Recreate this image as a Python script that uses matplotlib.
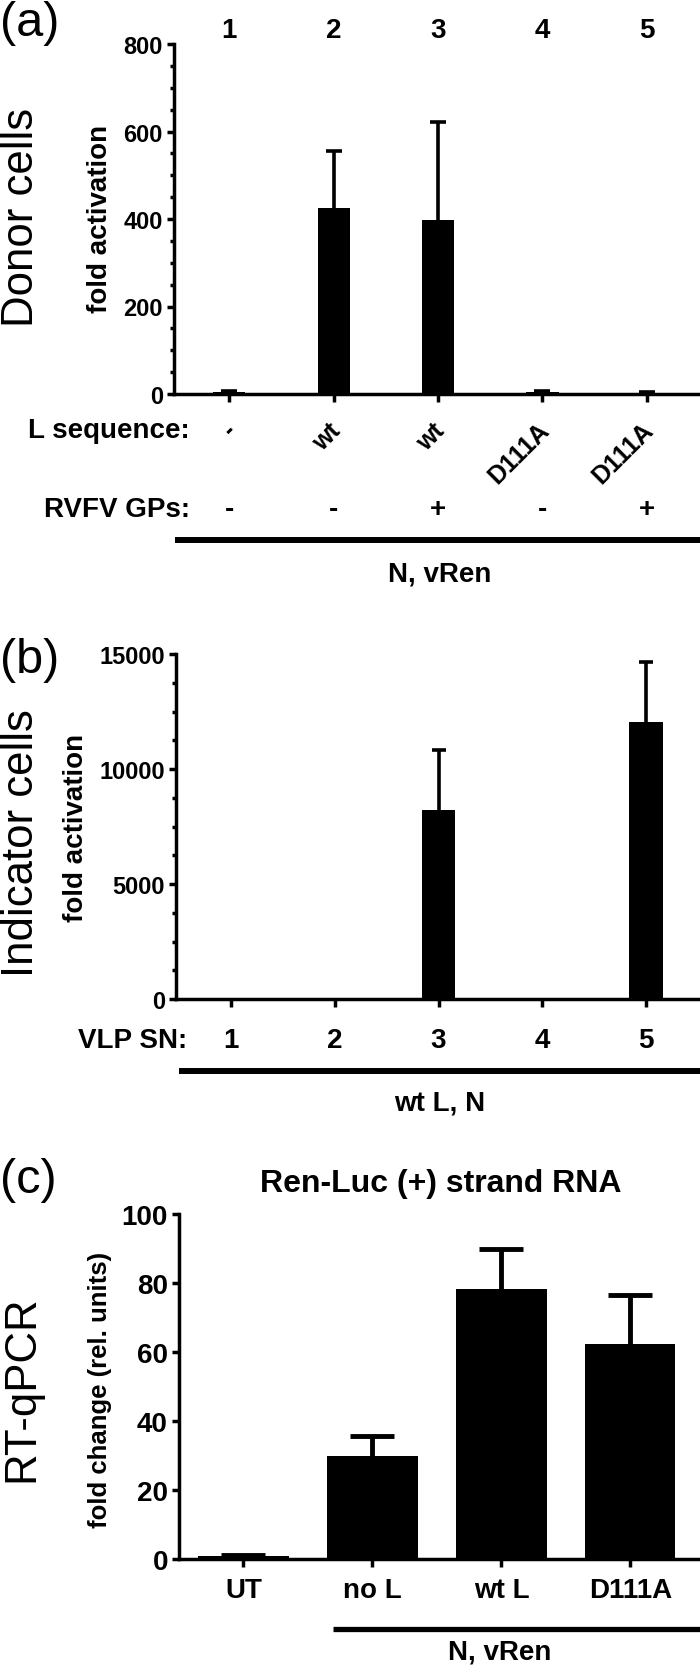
import numpy as np
import matplotlib
matplotlib.use('Agg')
import matplotlib.pyplot as plt
from matplotlib import transforms
from matplotlib.lines import Line2D
from matplotlib.ticker import MultipleLocator

# panel (a): donor cells
a_groups = [1, 2, 3, 4, 5]
a_fold = [4, 425, 398, 4, 3]
a_err = [2, 130, 223, 2, 2]
a_lseq = ['-', 'wt', 'wt', 'D111A', 'D111A']
a_gps = ['-', '-', '+', '-', '+']

# panel (b): indicator cells
b_vlp = ['1', '2', '3', '4', '5']
b_fold = [5, 5, 8220, 5, 12050]
b_err = [0, 0, 2610, 0, 2600]

# panel (c): RT-qPCR
c_cats = ['UT', 'no L', 'wt L', 'D111A']
c_fold = [1.0, 29.9, 78.3, 62.3]
c_err = [0.2, 5.7, 11.6, 14.2]

W, H = 700, 1681
plt.rcParams['font.family'] = ['Liberation Sans', 'DejaVu Sans']

fig = plt.figure(figsize=(W / 100, H / 100), dpi=100)


def fx(x):
    return x / W


def fy(y):
    return 1 - y / H


def ftext(x, y, s, **kw):
    fig.text(fx(x), fy(y), s, **kw)


def hline(x0, x1, y, lw=4.3):
    fig.add_artist(Line2D([fx(x0), fx(x1)], [fy(y), fy(y)], color='black',
                          lw=lw, solid_capstyle='butt',
                          transform=fig.transFigure))


def make_axes(left, top, bottom):
    ax = fig.add_axes([fx(left), fy(bottom), 1 - fx(left), (bottom - top) / H])
    for s in ['top', 'right']:
        ax.spines[s].set_visible(False)
    for s in ['left', 'bottom']:
        ax.spines[s].set_linewidth(2.5)
    ax.tick_params(axis='y', which='major', length=5, width=2.5, pad=3)
    ax.tick_params(axis='y', which='minor', length=3, width=2.5)
    ax.tick_params(axis='x', which='major', length=6, width=2.5)
    ax.set_facecolor('none')
    return ax


def up_errors(ax, x, y, err, lw, cap):
    # one-sided (upward) error bars, drawn only where there is an error
    x, y, err = np.asarray(x), np.asarray(y), np.asarray(err)
    keep = err > 0
    _, caps, _ = ax.errorbar(x[keep], y[keep], yerr=[np.zeros(keep.sum()), err[keep]],
                             fmt='none', ecolor='black', elinewidth=lw,
                             capsize=cap, capthick=lw, zorder=3)
    caps[0].set_visible(False)


def bold_ticks(ax, size):
    for lab in ax.get_yticklabels():
        lab.set_fontweight('bold')
        lab.set_fontsize(size)


# ---------------- (a) ----------------
ax1 = make_axes(174, 45, 395)
ax1.bar(a_groups, a_fold, width=0.31, color='black', zorder=2)
up_errors(ax1, a_groups, a_fold, a_err, 2.6, 6)
ax1.set_xlim(0.47, 5.51)
ax1.set_ylim(0, 800)
ax1.set_xticks(a_groups)
ax1.set_xticklabels([])
ax1.set_yticks(np.arange(0, 801, 200))
ax1.yaxis.set_minor_locator(MultipleLocator(50))
bold_ticks(ax1, 17)

tr1 = transforms.blended_transform_factory(ax1.transData, fig.transFigure)
for g in a_groups:
    ax1.text(g, fy(38), str(g), transform=tr1, ha='center', va='baseline',
             fontsize=20, fontweight='bold')
off = 8 / (W - 174) * (5.51 - 0.47)
for g, s in zip(a_groups, a_lseq):
    ax1.text(g + off, fy(432), s, transform=tr1, ha='right', va='baseline',
             rotation=45, rotation_mode='anchor', fontsize=18, fontweight='bold')
for g, s in zip(a_groups, a_gps):
    ax1.text(g, fy(517), s, transform=tr1, ha='center', va='baseline',
             fontsize=20, fontweight='bold')
ftext(190, 438, 'L sequence:', ha='right', va='baseline', fontsize=20,
      fontweight='bold')
ftext(190, 517, 'RVFV GPs:', ha='right', va='baseline', fontsize=20,
      fontweight='bold')
hline(175, 700, 541)
ftext(440, 582, 'N, vRen', ha='center', va='baseline', fontsize=20,
      fontweight='bold')
ftext(0, 36, '(a)', ha='left', va='baseline', fontsize=35)
ftext(33, 217, 'Donor cells', rotation=90, rotation_mode='anchor',
      ha='center', va='baseline', fontsize=31.5)
ftext(107, 219, 'fold activation', rotation=90, rotation_mode='anchor',
      ha='center', va='baseline', fontsize=20, fontweight='bold')

# ---------------- (b) ----------------
ax2 = make_axes(176, 655, 1000)
xb = np.arange(1, 6)
ax2.bar(xb, b_fold, width=0.32, color='black', zorder=2)
up_errors(ax2, xb, b_fold, b_err, 2.6, 5)
ax2.set_xlim(0.47, 5.52)
ax2.set_ylim(0, 15000)
ax2.set_xticks(xb)
ax2.set_xticklabels([])
ax2.set_yticks(np.arange(0, 15001, 5000))
ax2.yaxis.set_minor_locator(MultipleLocator(1250))
bold_ticks(ax2, 17)

tr2 = transforms.blended_transform_factory(ax2.transData, fig.transFigure)
for x, s in zip(xb, b_vlp):
    ax2.text(x, fy(1048), s, transform=tr2, ha='center', va='baseline',
             fontsize=20, fontweight='bold')
ftext(187, 1048, 'VLP SN:', ha='right', va='baseline', fontsize=20,
      fontweight='bold')
hline(179, 700, 1072)
ftext(440, 1111, 'wt L, N', ha='center', va='baseline', fontsize=20,
      fontweight='bold')
ftext(0, 673, '(b)', ha='left', va='baseline', fontsize=35)
ftext(33, 843, 'Indicator cells', rotation=90, rotation_mode='anchor',
      ha='center', va='baseline', fontsize=31.5)
ftext(83, 828, 'fold activation', rotation=90, rotation_mode='anchor',
      ha='center', va='baseline', fontsize=20, fontweight='bold')

# ---------------- (c) ----------------
ax3 = make_axes(179, 1215, 1560)
xc = np.arange(len(c_cats))
ax3.bar(xc, c_fold, width=0.7, color='black', zorder=2)
up_errors(ax3, xc, c_fold, c_err, 3.5, 16)
ax3.set_xlim(-0.5, 3.54)
ax3.set_ylim(0, 100)
ax3.set_xticks(xc)
ax3.set_xticklabels([])
ax3.set_yticks(np.arange(0, 101, 20))
bold_ticks(ax3, 20)

tr3 = transforms.blended_transform_factory(ax3.transData, fig.transFigure)
for x, s in zip(xc, c_cats):
    ax3.text(x, fy(1598), s, transform=tr3, ha='center', va='baseline',
             fontsize=20, fontweight='bold')
hline(333, 700, 1630, lw=3.8)
ftext(500, 1660, 'N, vRen', ha='center', va='baseline', fontsize=20,
      fontweight='bold')
ftext(441, 1192, 'Ren-Luc (+) strand RNA', ha='center', va='baseline',
      fontsize=23, fontweight='bold')
ftext(0, 1193, '(c)', ha='left', va='baseline', fontsize=35)
ftext(33, 1389, 'RT-qPCR', rotation=90, rotation_mode='anchor',
      ha='center', va='baseline', fontsize=31.5)
ftext(107, 1390, 'fold change (rel. units)', rotation=90, rotation_mode='anchor',
      ha='center', va='baseline', fontsize=18.5, fontweight='bold')

fig.savefig('out.png', dpi=100)
